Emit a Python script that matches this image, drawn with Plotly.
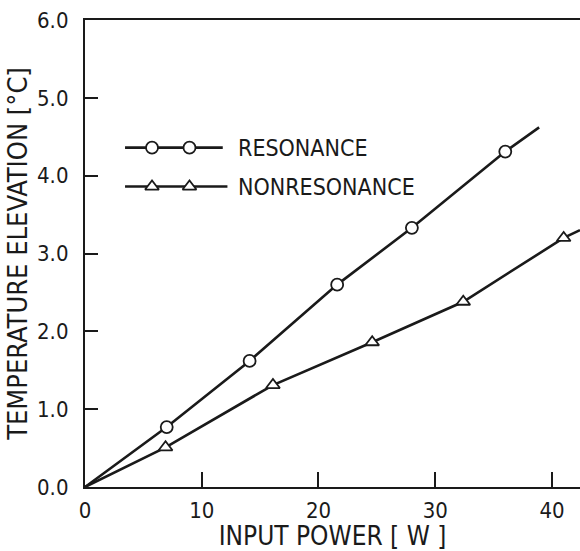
import plotly.graph_objects as go

# Measured points
resonance_power = [7.0, 14.1, 21.6, 28.0, 36.0]
resonance_temp = [0.77, 1.62, 2.60, 3.33, 4.31]
nonres_power = [6.9, 16.1, 24.6, 32.4, 41.0]
nonres_temp = [0.51, 1.31, 1.86, 2.38, 3.20]

# Drawn curves (start at origin, run past the last point)
resonance_curve_x = [0.0] + resonance_power + [38.9]
resonance_curve_y = [0.0] + resonance_temp + [4.62]
nonres_curve_x = [0.0] + nonres_power + [42.4]
nonres_curve_y = [0.0] + nonres_temp + [3.30]

x_ticks = [0, 10, 20, 30, 40]
y_ticks = [0, 1, 2, 3, 4, 5, 6]
y_tick_labels = ["0.0", "1.0", "2.0", "3.0", "4.0", "5.0", "6.0"]

# Key samples inside the plot (data units)
key_line_x = [3.43, 11.8]
key_res_y = 4.36
key_non_y = 3.86
key_marker_x = [5.74, 8.95]
key_text_x = 12.9

FONT = "DejaVu Sans Condensed, Liberation Sans Narrow, DejaVu Sans"
INK = "#1a1a1a"
X_RANGE = [0, 42.4]
Y_RANGE = [0, 6]

fig = go.Figure()

line_style = dict(color=INK, width=2.6)
circle_marker = dict(symbol="circle", size=12, color="white", line=dict(width=1.8, color=INK))
tri_marker = dict(symbol="triangle-up", size=12, color="white", line=dict(width=1.8, color=INK))

fig.add_trace(go.Scatter(x=resonance_curve_x, y=resonance_curve_y, mode="lines",
                         line=line_style, hoverinfo="skip"))
fig.add_trace(go.Scatter(x=nonres_curve_x, y=nonres_curve_y, mode="lines",
                         line=line_style, hoverinfo="skip"))
fig.add_trace(go.Scatter(x=resonance_power, y=resonance_temp, mode="markers",
                         marker=circle_marker, name="RESONANCE"))
fig.add_trace(go.Scatter(x=nonres_power, y=nonres_temp, mode="markers",
                         marker=tri_marker, name="NONRESONANCE"))

# Key
fig.add_trace(go.Scatter(x=key_line_x, y=[key_res_y] * 2, mode="lines",
                         line=line_style, hoverinfo="skip"))
fig.add_trace(go.Scatter(x=key_marker_x, y=[key_res_y] * 2, mode="markers",
                         marker=circle_marker, hoverinfo="skip"))
fig.add_trace(go.Scatter(x=[key_line_x[0], key_line_x[1] + 0.4], y=[key_non_y] * 2, mode="lines",
                         line=line_style, hoverinfo="skip"))
fig.add_trace(go.Scatter(x=key_marker_x, y=[key_non_y] * 2, mode="markers",
                         marker=tri_marker, hoverinfo="skip"))

for label, yv in [("RESONANCE", key_res_y), ("NONRESONANCE", key_non_y)]:
    fig.add_annotation(x=key_text_x, y=yv, text=label, showarrow=False,
                       xanchor="left", yanchor="middle",
                       font=dict(family=FONT, size=23, color=INK))

fig.update_layout(
    width=580, height=551,
    margin=dict(l=85, r=0, t=20, b=64),
    paper_bgcolor="white", plot_bgcolor="white",
    showlegend=False,
    font=dict(family=FONT, color=INK),
)
fig.update_xaxes(
    range=X_RANGE, tickmode="array", tickvals=x_ticks, ticktext=[str(v) for v in x_ticks],
    ticks="inside", ticklen=15, tickwidth=2.2, tickcolor=INK,
    showline=True, linewidth=2.2, linecolor=INK, mirror=True,
    showgrid=False, zeroline=False,
    tickfont=dict(family=FONT, size=22, color=INK), ticklabelstandoff=2,
    title=dict(text="INPUT POWER [ W ]", font=dict(family=FONT, size=26, color=INK), standoff=2),
)
fig.update_yaxes(
    range=Y_RANGE, tickmode="array", tickvals=y_ticks, ticktext=y_tick_labels,
    ticks="inside", ticklen=13, tickwidth=2.2, tickcolor=INK,
    showline=True, linewidth=2.2, linecolor=INK, mirror=False,
    showgrid=False, zeroline=False,
    tickfont=dict(family=FONT, size=22, color=INK), ticklabelstandoff=10,
    title=dict(text="TEMPERATURE ELEVATION [°C]", font=dict(family=FONT, size=27, color=INK), standoff=2),
)

fig.write_html("out.html")
